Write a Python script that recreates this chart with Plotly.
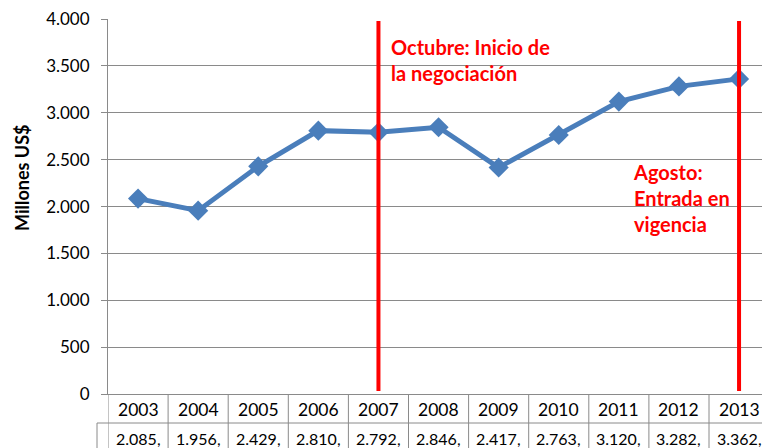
import plotly.graph_objects as go

years = ["2003", "2004", "2005", "2006", "2007", "2008", "2009", "2010", "2011", "2012", "2013"]
values = [2085, 1956, 2429, 2810, 2792, 2846, 2417, 2763, 3120, 3282, 3362]
value_labels = ["2.085,", "1.956,", "2.429,", "2.810,", "2.792,", "2.846,", "2.417,", "2.763,", "3.120,", "3.282,", "3.362,"]
event_years = ["2007", "2013"]
event_texts = ["Octubre: Inicio de<br>la negociación", "Agosto:<br>Entrada en<br>vigencia"]
y_max = 4000
y_step = 500

W, H = 762, 448
PL, PT, PB = 108, 19, 394        # plot area in screen pixels
L, T, B = PL, PT, H - PB
plot_h = PB - PT                 # 375
plot_w = W - L                   # 654
cat_w = 60.1
x_hi = -0.5 + plot_w / cat_w

FONT = "Lato, Calibri, Carlito, sans-serif"
GRID = "#8a8a8a"
RED = "#ff0000"

fig = go.Figure()
xi = list(range(len(years)))
fig.add_trace(go.Scatter(
    x=xi, y=values, mode="lines+markers",
    line=dict(color="#4a7ebb", width=5),
    marker=dict(symbol="diamond", size=15.5, color="#4a7ebb"),
    hoverinfo="skip", showlegend=False,
))

def py(pix):  # screen pixel row -> paper y
    return (PB - pix) / plot_h

def px(pix):  # screen pixel column -> paper x
    return (pix - PL) / plot_w

shapes = []
for ey in event_years:
    k = years.index(ey)
    shapes.append(dict(type="line", xref="x", yref="paper", x0=k, x1=k, y0=py(391), y1=py(21),
                       line=dict(color=RED, width=4), layer="above"))
for k in range(len(years) + 1):
    shapes.append(dict(type="line", xref="x", yref="paper", x0=k - 0.5, x1=k - 0.5,
                       y0=0, y1=py(460), line=dict(color=GRID, width=1), layer="above"))
shapes.append(dict(type="line", xref="paper", yref="paper", x0=px(97), x1=1.02,
                   y0=py(423), y1=py(423), line=dict(color=GRID, width=1)))
shapes.append(dict(type="line", xref="paper", yref="paper", x0=px(97), x1=px(97),
                   y0=py(423), y1=py(460), line=dict(color=GRID, width=1)))

ann = []
for k, (yr, vl) in enumerate(zip(years, value_labels)):
    ann.append(dict(x=k, y=py(409), xref="x", yref="paper", text=yr, showarrow=False,
                    font=dict(family=FONT, size=17.5, color="#000"), xanchor="center", yanchor="middle"))
    ann.append(dict(x=k, y=py(438), xref="x", yref="paper", text=vl, showarrow=False,
                    font=dict(family=FONT, size=16, color="#000"), xanchor="center", yanchor="middle"))

ann.append(dict(x=years.index(event_years[0]) + 0.18, y=py(33), xref="x", yref="paper",
                text="<b>" + event_texts[0] + "</b>", showarrow=False, align="left",
                xanchor="left", yanchor="top", font=dict(family=FONT, size=20, color=RED)))
ann.append(dict(x=years.index(event_years[1]) - 1.79, y=py(158), xref="x", yref="paper",
                text="<b>" + event_texts[1] + "</b>", showarrow=False, align="left",
                xanchor="left", yanchor="top", font=dict(family=FONT, size=20, color=RED)))
ann.append(dict(x=px(22), y=py(178), xref="paper", yref="paper",
                text="<b>Millones US$</b>", textangle=-90, showarrow=False,
                xanchor="center", yanchor="middle", font=dict(family=FONT, size=18, color="#000")))

fig.update_layout(
    width=W, height=H,
    margin=dict(l=L, r=0, t=T, b=B, pad=0),
    paper_bgcolor="white", plot_bgcolor="white",
    separators=",.",
    showlegend=False,
    shapes=shapes, annotations=ann,
    xaxis=dict(range=[-0.5, x_hi], showgrid=False, zeroline=False, showticklabels=False,
               ticks="", showline=True, linecolor=GRID, linewidth=1, fixedrange=True),
    yaxis=dict(range=[0, y_max + 1], tickvals=list(range(0, y_max + 1, y_step)), tickformat=",d",
               showgrid=True, gridcolor=GRID,
               gridwidth=1, zeroline=False, showline=True, linecolor=GRID, linewidth=1,
               ticks="outside", ticklen=6, tickcolor=GRID, ticklabelstandoff=8,
               tickfont=dict(family=FONT, size=17, color="#000"), fixedrange=True,
               automargin=False),
)

fig.write_html("out.html", config={"displayModeBar": False},
               post_script="document.body.style.margin='0';document.body.style.overflow='hidden';")
